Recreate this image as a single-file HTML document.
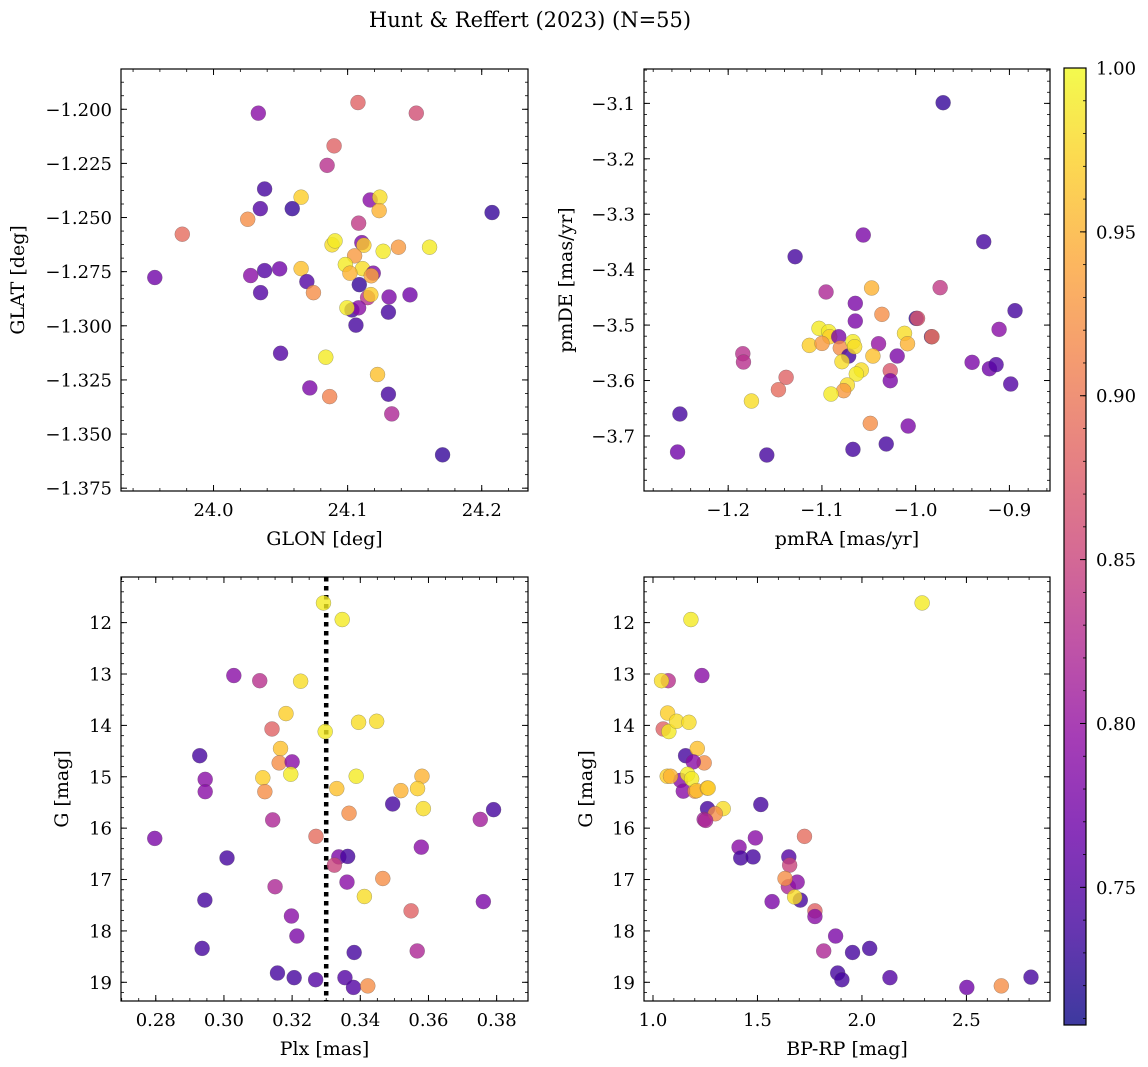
<!DOCTYPE html>
<html><head><meta charset="utf-8">
<style>
html,body{margin:0;padding:0;background:#fff;}
svg{display:block;font-family:"DejaVu Serif","Liberation Serif",serif;}
</style></head>
<body>
<svg id="fig" width="1148" height="1067" viewBox="0 0 1148 1067" xmlns="http://www.w3.org/2000/svg">
<text x="530" y="27" font-size="21" text-anchor="middle">Hunt &amp; Reffert (2023) (N=55)</text>
</svg>
<script>
// ---------- data ----------
const p1Glon=[24.0334,24.1077,24.1512,24.0899,24.0847,24.0381,24.0653,24.1168,24.124,24.0349,24.0587,24.1235,24.2077,24.0255,24.1082,23.9767,24.0884,24.0906,24.1106,24.1121,24.1265,24.1379,24.1611,24.1052,24.0983,24.1111,24.1017,24.1191,24.1176,24.0653,24.0381,24.0493,24.0277,23.9562,24.0696,24.1087,24.0745,24.0351,24.1149,24.1173,24.1309,24.1465,24.1032,24.1082,24.0995,24.1304,24.1062,24.05,24.0837,24.1223,24.0718,24.0866,24.1304,24.1329,24.1708];
const p1Glat=[-1.2018,-1.1969,-1.2018,-1.2169,-1.2259,-1.2368,-1.2406,-1.2419,-1.2406,-1.2459,-1.2459,-1.2468,-1.2477,-1.2508,-1.2526,-1.2577,-1.2626,-1.2608,-1.2616,-1.2628,-1.2656,-1.2637,-1.2637,-1.2677,-1.2717,-1.2736,-1.2757,-1.2757,-1.2769,-1.2736,-1.2745,-1.2737,-1.2768,-1.2777,-1.2796,-1.281,-1.2847,-1.2847,-1.287,-1.2856,-1.2867,-1.2857,-1.2927,-1.2917,-1.2917,-1.2937,-1.2997,-1.3127,-1.3145,-1.3225,-1.3287,-1.3327,-1.3316,-1.3407,-1.3596];
const p1Prob=[.79,.88,.86,.88,.83,.74,.97,.79,.98,.75,.73,.95,.73,.92,.84,.89,.98,.99,.78,.97,.99,.93,.99,.93,.99,.98,.95,.78,.94,.96,.75,.77,.79,.77,.75,.73,.92,.75,.83,.97,.78,.77,.74,.79,.99,.74,.74,.75,.99,.96,.78,.91,.74,.82,.73];

const p2PmRA=[-0.9707,-1.0559,-0.9274,-1.1286,-1.047,-0.9739,-1.0956,-1.0644,-0.894,-1.036,-1.0644,-0.9994,-0.998,-0.911,-1.1031,-1.0928,-1.0917,-1.0821,-1.0119,-0.9831,-0.9826,-1.1134,-1.0999,-1.0804,-1.0715,-1.0669,-1.0651,-1.0087,-1.0396,-1.0456,-1.0197,-1.0786,-1.1844,-1.1837,-0.9398,-0.9213,-0.9142,-1.058,-1.0633,-1.0271,-1.0271,-0.8986,-1.1382,-1.1464,-1.0729,-1.0768,-1.0903,-1.1752,-1.2515,-1.0484,-1.008,-1.0314,-1.0669,-1.254,-1.1588];
const p2PmDE=[-3.0988,-3.3375,-3.3496,-3.3766,-3.4331,-3.4325,-3.4403,-3.4608,-3.474,-3.4806,-3.4927,-3.4879,-3.4879,-3.5077,-3.5059,-3.5119,-3.521,-3.521,-3.5149,-3.521,-3.521,-3.5366,-3.533,-3.5414,-3.5558,-3.53,-3.539,-3.5336,-3.5336,-3.5558,-3.5558,-3.566,-3.5516,-3.5666,-3.5672,-3.5787,-3.5714,-3.5811,-3.5883,-3.5823,-3.6003,-3.6063,-3.5943,-3.6166,-3.6081,-3.6183,-3.6244,-3.637,-3.6604,-3.6773,-3.6821,-3.7145,-3.7242,-3.729,-3.7344];
const p2Prob=[.73,.78,.74,.74,.95,.84,.82,.78,.74,.92,.78,.73,.87,.79,.99,.99,.97,.78,.98,.74,.90,.97,.93,.92,.74,.99,.98,.95,.80,.96,.78,.98,.83,.83,.78,.77,.75,.98,.99,.87,.78,.75,.88,.89,.98,.93,.99,.98,.74,.92,.78,.74,.74,.77,.74];

const p3Plx=[0.3292,0.3347,0.3029,0.3105,0.3225,0.3182,0.3141,0.3297,0.3395,0.3448,0.2929,0.3166,0.3162,0.32,0.2945,0.2945,0.3114,0.3196,0.312,0.3388,0.3331,0.3581,0.3519,0.3568,0.3495,0.3585,0.3791,0.3752,0.3367,0.3143,0.2797,0.327,0.3579,0.3009,0.3337,0.3363,0.3324,0.315,0.3361,0.3466,0.2944,0.3412,0.3761,0.3549,0.3198,0.3214,0.2936,0.3382,0.3567,0.3157,0.3206,0.3269,0.3355,0.338,0.3422];
const p3G=[11.617,11.94,13.03,13.13,13.14,13.77,14.07,14.12,13.94,13.92,14.59,14.45,14.73,14.71,15.05,15.29,15.02,14.95,15.29,14.99,15.23,14.99,15.27,15.23,15.53,15.62,15.64,15.83,15.71,15.84,16.2,16.16,16.37,16.58,16.56,16.55,16.72,17.14,17.05,16.98,17.4,17.33,17.43,17.61,17.71,18.1,18.34,18.42,18.39,18.82,18.91,18.95,18.91,19.1,19.07];
const p3Prob=[.99,.99,.79,.83,.98,.97,.88,.99,.98,.98,.74,.96,.92,.79,.79,.79,.97,.99,.92,.99,.96,.95,.95,.97,.74,.98,.74,.81,.92,.82,.78,.89,.79,.74,.78,.74,.85,.82,.79,.92,.74,.98,.78,.88,.79,.78,.74,.74,.82,.74,.74,.75,.75,.75,.92];
const plxRef=0.33;

const p4Bprp=[2.288,1.1815,1.234,1.073,1.041,1.07,1.049,1.076,1.113,1.172,1.156,1.212,1.245,1.193,1.132,1.145,1.068,1.166,1.201,1.185,1.209,1.084,1.26,1.264,1.516,1.336,1.261,1.245,1.298,1.252,1.49,1.725,1.412,1.42,1.479,1.65,1.654,1.648,1.69,1.632,1.705,1.678,1.57,1.775,1.775,1.874,1.955,2.037,1.817,1.884,1.904,2.134,2.502,2.667,2.809];
const p4G=[11.617,11.94,13.03,13.13,13.13,13.76,14.07,14.12,13.92,13.94,14.59,14.45,14.73,14.71,15.07,15.28,14.99,14.95,15.28,15.04,15.27,14.99,15.22,15.22,15.54,15.62,15.62,15.83,15.72,15.85,16.19,16.16,16.37,16.58,16.56,16.56,16.72,17.14,17.05,16.98,17.4,17.34,17.43,17.61,17.72,18.1,18.42,18.34,18.39,18.82,18.95,18.91,19.1,19.07,18.9];
const p4Prob=[.99,.99,.79,.83,.98,.97,.88,.99,.98,.98,.74,.96,.92,.79,.79,.79,.97,.99,.92,.99,.96,.95,.95,.97,.74,.98,.74,.81,.92,.82,.79,.89,.79,.74,.74,.75,.85,.82,.79,.92,.74,.98,.78,.88,.79,.78,.74,.74,.82,.74,.74,.75,.77,.92,.74];

const p1XTicks=[24.0,24.1,24.2];
const p1YTicks=[-1.200,-1.225,-1.250,-1.275,-1.300,-1.325,-1.350,-1.375];
const p2XTicks=[-1.2,-1.1,-1.0,-0.9];
const p2YTicks=[-3.1,-3.2,-3.3,-3.4,-3.5,-3.6,-3.7];
const p3XTicks=[0.28,0.30,0.32,0.34,0.36,0.38];
const gTicks=[12,13,14,15,16,17,18,19];
const p4XTicks=[1.0,1.5,2.0,2.5];
const cbTicks=[0.75,0.80,0.85,0.90,0.95,1.00];
const cbMin=0.708, cbMax=1.0;

// ---------- rendering ----------
const NS="http://www.w3.org/2000/svg";
const svg=document.getElementById('fig');
const TFS=18, LFS=19;
function mk(tag,attrs,parent){const e=document.createElementNS(NS,tag);for(const k in attrs)e.setAttribute(k,attrs[k]);(parent||svg).appendChild(e);return e;}
const plasma=[[13,8,135],[65,4,157],[106,0,168],[143,13,164],[177,42,144],[204,71,120],[225,100,98],[242,132,75],[252,166,54],[252,206,37],[240,249,33]];
function cmap(t){t=Math.max(0,Math.min(1,t));const f=t*10,i=Math.min(9,Math.floor(f)),r=f-i;const a=plasma[i],b=plasma[i+1];return 'rgb('+[0,1,2].map(k=>Math.round(a[k]+(b[k]-a[k])*r)).join(',')+')';}
function fmt(v,d){return (v<0?'\u2212':'')+Math.abs(v).toFixed(d);}

function panel(o){
  const g=mk('g',{});
  
  
  const sx=v=>o.L+(v-o.x0)/(o.x1-o.x0)*(o.R-o.L);
  const sy=v=>o.T+(v-o.y0)/(o.y1-o.y0)*(o.B-o.T);
  const ax=mk('g',{},g);
  
  
  const minor=(t0,step,lo,hi,fn)=>{for(let v=t0;v<=hi+1e-9;v+=step){if(v>=lo-1e-9)fn(v);}};
  const xmin=Math.min(o.x0,o.x1),xmax=Math.max(o.x0,o.x1),ymin=Math.min(o.y0,o.y1),ymax=Math.max(o.y0,o.y1);
  minor(Math.ceil(xmin/o.xm)*o.xm,o.xm,xmin,xmax,v=>{const x=sx(v);mk('line',{x1:x,x2:x,y1:o.B,y2:o.B-3,stroke:'#000','stroke-width':0.8},ax);mk('line',{x1:x,x2:x,y1:o.T,y2:o.T+3,stroke:'#000','stroke-width':0.8},ax);});
  minor(Math.ceil(ymin/o.ym)*o.ym,o.ym,ymin,ymax,v=>{const y=sy(v);mk('line',{x1:o.L,x2:o.L+3,y1:y,y2:y,stroke:'#000','stroke-width':0.8},ax);mk('line',{x1:o.R,x2:o.R-3,y1:y,y2:y,stroke:'#000','stroke-width':0.8},ax);});
  o.xt.forEach(v=>{const x=sx(v);mk('line',{x1:x,x2:x,y1:o.B,y2:o.B-6,stroke:'#000','stroke-width':1},ax);mk('line',{x1:x,x2:x,y1:o.T,y2:o.T+6,stroke:'#000','stroke-width':1},ax);
    const t=mk('text',{x:x,y:o.B+25,'font-size':TFS,'text-anchor':'middle'},ax);t.textContent=fmt(v,o.xd);
    
    });
  o.yt.forEach(v=>{const y=sy(v);mk('line',{x1:o.L,x2:o.L+6,y1:y,y2:y,stroke:'#000','stroke-width':1},ax);mk('line',{x1:o.R,x2:o.R-6,y1:y,y2:y,stroke:'#000','stroke-width':1},ax);
    const t=mk('text',{x:o.L-9,y:y+6.5,'font-size':TFS,'text-anchor':'end'},ax);t.textContent=fmt(v,o.yd);
    
    });
  if(o.vline!==undefined){const x=sx(o.vline);const l=mk('line',{x1:x,x2:x,y1:o.T,y2:o.B,stroke:'#000','stroke-width':4.5,'stroke-dasharray':'4.5 4.5'},g);
    
    }
  const pts=mk('g',{},g);
  
  
  o.xs.forEach((v,i)=>{const c=mk('circle',{cx:sx(v),cy:sy(o.ys[i]),r:7.5,fill:cmap((o.c[i]-cbMin)/(cbMax-cbMin)),'fill-opacity':0.8,stroke:'#555','stroke-opacity':0.5,'stroke-width':0.5},pts);
    
    });
  const fr=mk('rect',{x:o.L,y:o.T,width:o.R-o.L,height:o.B-o.T,fill:'none',stroke:'#000','stroke-width':1.2},g);
  
  
  const xl=mk('text',{x:(o.L+o.R)/2,y:o.B+54,'font-size':LFS,'text-anchor':'middle'},g);xl.textContent=o.xlab;
  
  
  const cy=(o.T+o.B)/2;
  const yl=mk('text',{x:o.ylx,y:cy,'font-size':LFS,'text-anchor':'middle',transform:'rotate(-90 '+o.ylx+' '+cy+')'},g);yl.textContent=o.ylab;
  
  
}

panel({name:'panel-glon-glat',L:121,R:528,T:69,B:491,x0:23.931,x1:24.2345,y0:-1.1814,y1:-1.3763,xm:0.02,ym:0.00625,xt:p1XTicks,yt:p1YTicks,xd:1,yd:3,xs:p1Glon,ys:p1Glat,c:p1Prob,xlab:'GLON [deg]',ylab:'GLAT [deg]',ylx:24});
panel({name:'panel-pmra-pmde',L:644,R:1050,T:69,B:491,x0:-1.2898,x1:-0.8567,y0:-3.038,y1:-3.7993,xm:0.02,ym:0.02,xt:p2XTicks,yt:p2YTicks,xd:1,yd:1,xs:p2PmRA,ys:p2PmDE,c:p2Prob,xlab:'pmRA [mas/yr]',ylab:'pmDE [mas/yr]',ylx:572});
panel({name:'panel-plx-g',L:121,R:528,T:577,B:1001,x0:0.2698,x1:0.3892,y0:11.112,y1:19.364,xm:0.005,ym:0.2,xt:p3XTicks,yt:gTicks,xd:2,yd:0,xs:p3Plx,ys:p3G,c:p3Prob,xlab:'Plx [mas]',ylab:'G [mag]',ylx:68,vline:plxRef});
panel({name:'panel-bprp-g',L:644,R:1050,T:577,B:1001,x0:0.957,x1:2.900,y0:11.112,y1:19.364,xm:0.1,ym:0.2,xt:p4XTicks,yt:gTicks,xd:1,yd:0,xs:p4Bprp,ys:p4G,c:p4Prob,xlab:'BP-RP [mag]',ylab:'G [mag]',ylx:592});

// colorbar
(function(){
  const L=1064,R=1086,T=68,B=1025;
  const g=mk('g',{});
  
  
  const defs=mk('defs',{},g);
  const lg=mk('linearGradient',{id:'cbg',x1:0,y1:1,x2:0,y2:0},defs);
  for(let i=0;i<=10;i++){mk('stop',{offset:i/10,'stop-color':cmap(i/10),'stop-opacity':0.8},lg);}
  mk('rect',{x:L,y:T,width:R-L,height:B-T,fill:'url(#cbg)',stroke:'#000','stroke-width':1.2},g);
  const sy=v=>B-(v-cbMin)/(cbMax-cbMin)*(B-T);
  for(let v=0.71;v<=1.0001;v+=0.01){const y=sy(v);mk('line',{x1:R,x2:R-3,y1:y,y2:y,stroke:'#000','stroke-width':0.8},g);}
  cbTicks.forEach(v=>{const y=sy(v);mk('line',{x1:R,x2:R-6,y1:y,y2:y,stroke:'#000','stroke-width':1},g);
    const t=mk('text',{x:R+10,y:y+6.5,'font-size':TFS},g);t.textContent=v.toFixed(2);
    
    });
})();
</script>
</body></html>
